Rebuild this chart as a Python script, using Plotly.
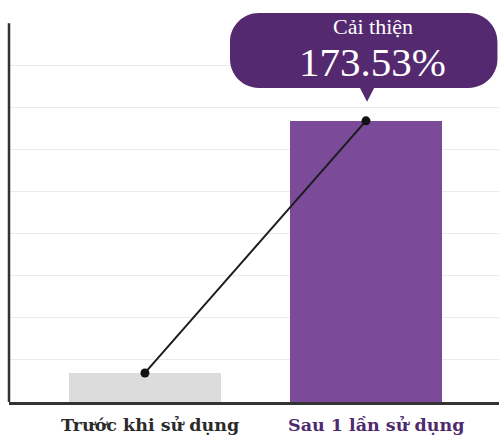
import plotly.graph_objects as go

# Data
categories = ["Trước khi sử dụng", "Sau 1 lần sử dụng"]
values = [0.69, 6.68]
bar_colors = ["#dcdcdc", "#7b4a98"]
label_colors = ["#2b2b2b", "#4f2a6e"]
callout_title = "Cải thiện"
callout_value = "173.53%"

x_pos = [0, 1]
Y_TOP = 9.55
GRID = list(range(1, 9))

fig = go.Figure()

fig.add_trace(go.Bar(
    x=x_pos, y=values, width=0.69,
    marker=dict(color=bar_colors, line=dict(width=0)),
    hoverinfo="skip", showlegend=False,
))
fig.add_trace(go.Scatter(
    x=x_pos, y=values, mode="lines+markers",
    line=dict(color="#1c1c1c", width=2),
    marker=dict(color="#111111", size=9),
    hoverinfo="skip", showlegend=False, cliponaxis=False,
))

# left axis line drawn as a shape so it stops below the callout area
fig.add_shape(type="line", xref="paper", yref="y", x0=0, x1=0, y0=0, y1=9,
              line=dict(color="#333333", width=2.5), layer="above")

# callout bubble anchored above the second bar
tip_x = x_pos[1] + 0.005
tip_y = values[1] + 0.45
bx0, bx1 = 0.385, 1.595
by0, by1 = tip_y + 0.33, 9.24
rx, ry = 0.13, 0.68
hw = 0.032
k = 0.45  # bezier handle factor for rounded corners
path = (
    f"M {bx0+rx},{by1} L {bx1-rx},{by1} "
    f"C {bx1-rx*k},{by1} {bx1},{by1-ry*k} {bx1},{by1-ry} "
    f"L {bx1},{by0+ry} "
    f"C {bx1},{by0+ry*k} {bx1-rx*k},{by0} {bx1-rx},{by0} "
    f"L {tip_x+hw},{by0} L {tip_x},{tip_y} L {tip_x-hw},{by0} "
    f"L {bx0+rx},{by0} "
    f"C {bx0+rx*k},{by0} {bx0},{by0+ry*k} {bx0},{by0+ry} "
    f"L {bx0},{by1-ry} "
    f"C {bx0},{by1-ry*k} {bx0+rx*k},{by1} {bx0+rx},{by1} Z"
)
fig.add_shape(type="path", xref="x", yref="y", path=path,
              fillcolor="#54296f", line=dict(width=0), layer="above")

fig.add_annotation(x=1.03, y=8.93, xref="x", yref="y", text=callout_title,
                   showarrow=False, font=dict(family="Liberation Serif", size=22, color="white"))
fig.add_annotation(x=1.03, y=8.07, xref="x", yref="y", text=callout_value,
                   showarrow=False, font=dict(family="Liberation Serif", size=41, color="white"))

# category labels under the bars
shifts = [5, 10]
for xp, name, col, sh in zip(x_pos, categories, label_colors, shifts):
    fig.add_annotation(x=xp, y=0, xref="x", yref="paper", yshift=-23, xshift=sh,
                       text=f"<b>{name}</b>", showarrow=False, yanchor="middle",
                       font=dict(family="DejaVu Serif", size=17.5, color=col))

fig.update_layout(
    width=499, height=435,
    margin=dict(l=9, r=0, t=0, b=33),
    paper_bgcolor="white", plot_bgcolor="white",
    xaxis=dict(range=[-0.615, 1.602], showgrid=False, zeroline=False,
               showticklabels=False, showline=True, linecolor="#333333",
               linewidth=2.5, ticks=""),
    yaxis=dict(range=[0, Y_TOP], tickmode="array", tickvals=GRID,
               showticklabels=False, showgrid=True, gridcolor="#ebebeb",
               gridwidth=1.2, zeroline=False, showline=False, ticks=""),
    bargap=0,
)

fig.write_html("out.html")
